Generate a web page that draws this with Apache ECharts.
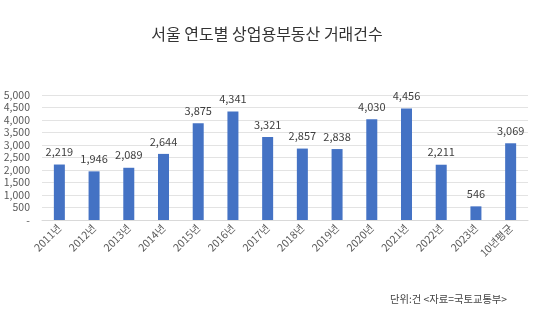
<!DOCTYPE html>
<html><head><meta charset="utf-8">
<script src="https://cdn.jsdelivr.net/npm/echarts@6/dist/echarts.min.js"></script>
<style>html,body{margin:0;padding:0;background:#fff}#c{width:534px;height:324px}</style>
</head><body><div id="c"></div>
<script>
const categories = ['2011년','2012년','2013년','2014년','2015년','2016년','2017년','2018년','2019년','2020년','2021년','2022년','2023년','10년평균'];
const values = [2219,1946,2089,2644,3875,4341,3321,2857,2838,4030,4456,2211,546,3069];
const titleText = '서울 연도별 상업용부동산 거래건수';
const noteText = '단위:건 <자료=국토교통부>';
const font = '"Noto Sans CJK KR", "Liberation Sans", sans-serif';
const chart = echarts.init(document.getElementById('c'), null, {renderer:'canvas'});
chart.setOption({
  animation:false,
  backgroundColor:'#fff',
  title:{text:titleText, left:'center', top:21, textStyle:{fontFamily:font, fontSize:16, fontWeight:'normal', color:'#333'}},
  graphic:[{type:'text', left:390, top:294, style:{text:noteText, fontFamily:font, fontSize:10.3, fill:'#444'}}],
  grid:{left:42, right:6, top:95, bottom:104},
  xAxis:{type:'category', data:categories,
    axisLine:{lineStyle:{color:'#d9d9d9'}}, axisTick:{show:false},
    axisLabel:{rotate:45, fontFamily:font, fontSize:10.5, color:'#595959', margin:6, interval:0}},
  yAxis:{type:'value', min:0, max:5000, interval:500,
    axisLine:{show:false}, axisTick:{show:false},
    splitLine:{lineStyle:{color:'#e3e3e3'}},
    axisLabel:{fontFamily:font, fontSize:10.5, color:'#595959', margin:12,
      formatter:v=> v===0 ? '-' : v.toLocaleString('en-US')}},
  series:[{type:'bar', data:values, barWidth:11, itemStyle:{color:'#4472C4'},
    label:{show:true, position:'top', distance:7, fontFamily:font, fontSize:11, color:'#404040',
      formatter:p=>p.value.toLocaleString('en-US')}}]
});
</script></body></html>
